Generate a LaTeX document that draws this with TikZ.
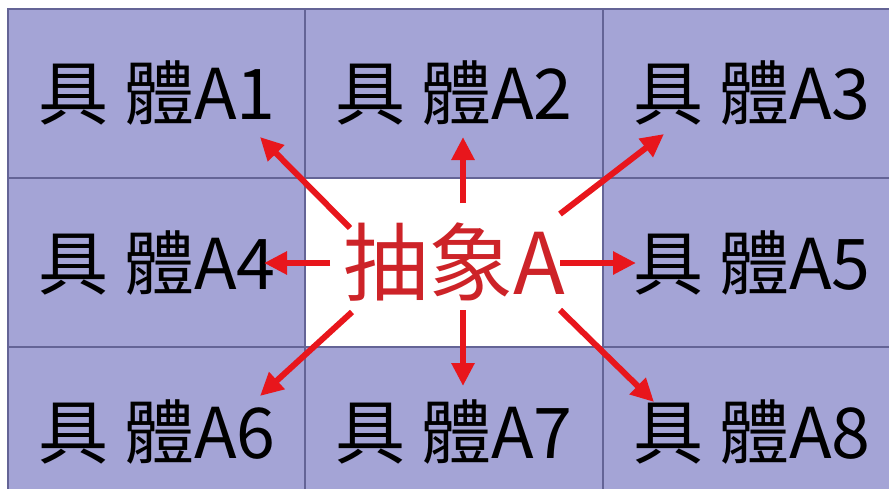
\documentclass[tikz,border=0pt]{standalone}
\usepackage{fontspec}
\setmainfont{Noto Sans CJK TC}
\usetikzlibrary{arrows.meta}
\definecolor{cellfill}{RGB}{164,164,214}
\definecolor{cellline}{RGB}{100,100,150}
\definecolor{arrowred}{RGB}{232,22,28}
\definecolor{textred}{RGB}{205,35,40}
\tikzset{
  cell/.style={draw=cellline, line width=1.5pt, fill=cellfill, minimum width=298pt, minimum height=169pt, inner sep=0pt, outer sep=0pt, font=\fontsize{70}{70}\selectfont, text=black},
  center cell/.style={cell, fill=white, font=\fontsize{85}{85}\selectfont, text=textred},
  ray/.style={draw=arrowred, line width=6pt, -{Triangle[length=23pt,width=22pt]}}
}
\begin{document}
\begin{tikzpicture}[x=1pt,y=-1pt]
\useasboundingbox (0,0) rectangle (889,488);
\fill[white] (0,0) rectangle (889,488);
\begin{scope}
\clip (0,0) rectangle (889,488);
\node[cell] (c1) at (157,93.5) {具 體A1};
\node[cell] (c2) at (454,93.5) {具 體A2};
\node[cell] (c3) at (752,93.5) {具 體A3};
\node[cell] (c4) at (157,262.5) {具 體A4};
\node[center cell] (c0) at (454,262.5) {抽象A};
\node[cell] (c5) at (752,262.5) {具 體A5};
\node[cell] (c6) at (157,431.5) {具 體A6};
\node[cell] (c7) at (454,431.5) {具 體A7};
\node[cell] (c8) at (752,431.5) {具 體A8};
\end{scope}
% arrow start points on the centre label
\coordinate (s1) at (350,228);
\coordinate (s2) at (463,203);
\coordinate (s3) at (560,214);
\coordinate (s4) at (330,263);
\coordinate (s5) at (560,263);
\coordinate (s6) at (352,312);
\coordinate (s7) at (463,310);
\coordinate (s8) at (560,310);
% arrow tips
\coordinate (t1) at (260,137);
\coordinate (t2) at (463,137);
\coordinate (t3) at (664,134);
\coordinate (t4) at (264,263);
\coordinate (t5) at (636,263);
\coordinate (t6) at (260,396);
\coordinate (t7) at (463,386);
\coordinate (t8) at (654,402);
\foreach \i in {1,...,8} {\draw[ray] (s\i) -- (t\i);}
\end{tikzpicture}
\end{document}
